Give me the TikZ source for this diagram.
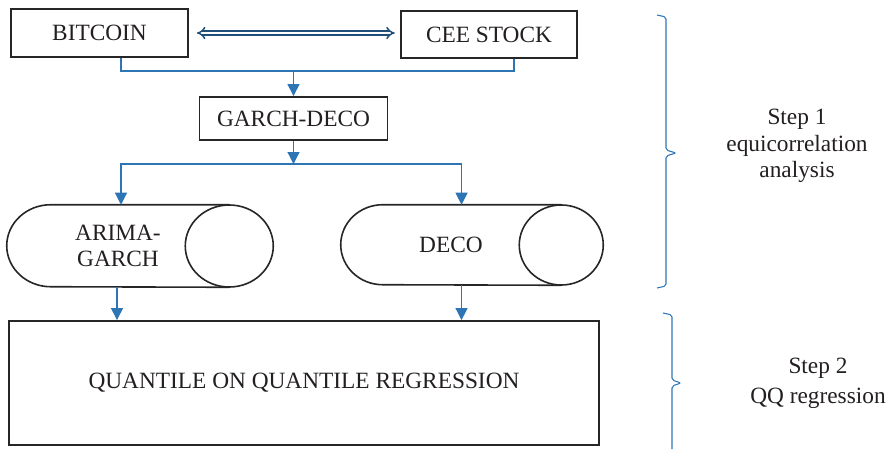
\documentclass[tikz,border=0pt]{standalone}
\usepackage{fontspec}
\setmainfont{Liberation Serif}
\usetikzlibrary{arrows.meta,calc}

\definecolor{boxgray}{RGB}{38,38,38}
\definecolor{textgray}{RGB}{35,31,32}
\definecolor{linkblue}{RGB}{46,117,182}
\definecolor{dblue}{RGB}{31,78,121}

\begin{document}
\begin{tikzpicture}[x=0.75pt,y=0.75pt,yscale=-1,xscale=1,
  every node/.style={text=textgray, font=\rmfamily\fontsize{17.5}{20}\selectfont},
  box/.style={draw=boxgray, line width=1.4pt, inner sep=0pt},
  drum/.style={inner sep=0pt, align=center},
  drumline/.style={draw=boxgray, line width=1.2pt},
  link/.style={draw=linkblue, line width=0.9pt},
  tip/.style={-{Triangle[length=9pt,width=9pt]}},
  dbl/.style={draw=dblue, line width=1.1pt, double=white, double distance=2pt, {Implies[length=6pt]}-{Implies[length=6pt]}},
  brace/.style={draw=linkblue, line width=0.8pt, rounded corners=1.5pt},
  note/.style={align=center}
]
\path (0,0) rectangle (896,449);

% Boxes
\node[box, minimum width=132.75pt, minimum height=36pt] (bitcoin) at (99.5,33) {BITCOIN};
\node[box, minimum width=132pt, minimum height=35.25pt] (cee) at (489,34.5) {CEE STOCK};
\node[box, minimum width=141pt, minimum height=32.25pt] (garch) at (293.5,118.5) {GARCH-DECO};
\node[box, minimum width=442.5pt, minimum height=93pt] (qq) at (304,383) {QUANTILE ON QUANTILE REGRESSION};

% Drums
\node[drum, minimum width=166.5pt, minimum height=61.5pt] (arima) at (118,246) {ARIMA-\\GARCH};
\node[drum, minimum width=165pt, minimum height=60pt] (deco) at (451,245) {DECO};
\draw[drumline] (arima.north east) -- ($(arima.north west)+(44,0)$) arc[start angle=270, end angle=90, x radius=44, y radius=41] -- (arima.south east);
\draw[drumline] (arima.east) ellipse [x radius=44, y radius=41];
\draw[drumline] (deco.north east) -- ($(deco.north west)+(42,0)$) arc[start angle=270, end angle=90, x radius=42, y radius=40] -- (deco.south east);
\draw[drumline] (deco.east) ellipse [x radius=42, y radius=40];

% Junctions
\coordinate (j1) at (293.5,71);
\coordinate (j2) at (293.5,164);

% Connectors
\draw[dbl] ([xshift=6pt]bitcoin.east) -- ([xshift=-4pt]cee.west |- bitcoin.east);
\draw[link] ([xshift=16.1pt]bitcoin.south) |- (j1) -| ([xshift=18.75pt]cee.south);
\draw[link,tip] (j1) -- (garch.north);
\draw[link,tip] (garch.south) -- (j2);
\draw[link,tip] (j2) -| ([xshift=2.25pt]arima.north);
\draw[link,tip] (j2) -| ([xshift=7.9pt]deco.north);
\draw[link,tip] ([xshift=-0.75pt]arima.south) -- ([xshift=-0.75pt]arima.south |- qq.north);
\draw[link,tip] ([xshift=7.9pt]deco.south) -- ([xshift=7.9pt]deco.south |- qq.north);

% Braces
\draw[brace] (657,15) -- (666,17) -- (666,150) -- (676,153) -- (666,156) -- (666,286) -- (657,288);
\draw[brace] (663,313) -- (672,315) -- (672,380) -- (681,383) -- (672,386) -- (672,449);

% Step labels
\node[note] (step1) at (797,146) {Step 1\\equicorrelation\\analysis};
\node[note, font=\rmfamily\fontsize{17.5}{22.5}\selectfont] (step2) at (818,383) {Step 2\\QQ regression};

\end{tikzpicture}
\end{document}
